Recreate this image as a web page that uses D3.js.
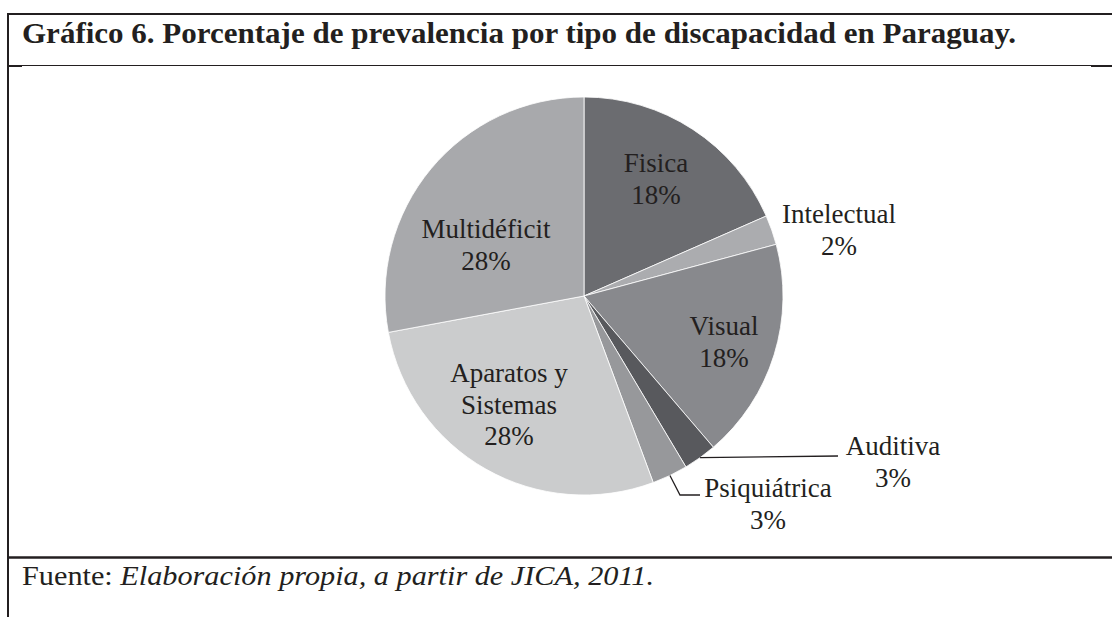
<!DOCTYPE html>
<html>
<head>
<meta charset="utf-8">
<script src="https://cdn.jsdelivr.net/npm/d3@7"></script>
<style>
  html, body { margin: 0; padding: 0; background: #fff; }
  svg { display: block; }
</style>
</head>
<body>
<svg id="chart" width="1112" height="617"></svg>
<script>
// ---- data ----
const categories = ["Fisica", "Intelectual", "Visual", "Auditiva", "Psiquiátrica", "Aparatos y Sistemas", "Multidéficit"];
const values = [18.4, 2.4, 17.9, 2.7, 2.9, 27.7, 27.9];
const percentLabels = ["18%", "2%", "18%", "3%", "3%", "28%", "28%"];
const labelLines = [["Fisica"], ["Intelectual"], ["Visual"], ["Auditiva"], ["Psiquiátrica"], ["Aparatos y", "Sistemas"], ["Multidéficit"]];
const titleText = "Gráfico 6. Porcentaje de prevalencia por tipo de discapacidad en Paraguay.";
const sourceLabel = "Fuente: ";
const sourceText = "Elaboración propia, a partir de JICA, 2011.";

// ---- styling / layout ----
const colors = ["#6b6c70", "#abacaf", "#88898d", "#58595d", "#97989b", "#cbcccd", "#a8a9ac"];
// label anchor (center x, first baseline) relative to pie center
const labelPos = [
  [72, -124], [255, -73], [140, 39], [309, 159], [184, 201], [-75, 86], [-98, -58]
];
// leader lines (relative to pie center) for outside labels
const leaders = { 3: [[254, 160]], 4: [[96, 199], [116, 199]] };

const W = 1112, H = 617;
const ink = "#231f20";
const svg = d3.select("#chart");
const serif = "'Liberation Serif', 'DejaVu Serif', serif";

// frame
svg.append("line").attr("x1", 8).attr("x2", W).attr("y1", 14).attr("y2", 14).attr("stroke", ink).attr("stroke-width", 2);
svg.append("line").attr("x1", 8).attr("x2", 8).attr("y1", 13).attr("y2", H).attr("stroke", ink).attr("stroke-width", 2);
svg.append("line").attr("x1", 8).attr("x2", W).attr("y1", 65.5).attr("y2", 65.5).attr("stroke", ink).attr("stroke-width", 1);
svg.append("line").attr("x1", 8).attr("x2", 22).attr("y1", 66).attr("y2", 66).attr("stroke", ink).attr("stroke-width", 2);
svg.append("line").attr("x1", 1091).attr("x2", W).attr("y1", 66).attr("y2", 66).attr("stroke", ink).attr("stroke-width", 2);
svg.append("line").attr("x1", 8).attr("x2", W).attr("y1", 557.5).attr("y2", 557.5).attr("stroke", ink).attr("stroke-width", 2.5);

// title
svg.append("text").attr("x", 22).attr("y", 43)
  .attr("font-family", serif).attr("font-weight", "bold").attr("font-size", 30)
  .attr("textLength", 994).attr("lengthAdjust", "spacingAndGlyphs")
  .attr("fill", ink).text(titleText);

// footer
const foot = svg.append("text").attr("x", 22).attr("y", 585)
  .attr("font-family", serif).attr("font-size", 27.6).attr("fill", ink)
  .attr("textLength", 632).attr("lengthAdjust", "spacingAndGlyphs");
foot.append("tspan").text(sourceLabel);
foot.append("tspan").attr("font-style", "italic").text(sourceText);

// pie
const cx = 584, cy = 296, R = 199;
const pie = d3.pie().sort(null).value(d => d)(values);
const arc = d3.arc().innerRadius(0).outerRadius(R);
const g = svg.append("g").attr("transform", `translate(${cx},${cy})`);

g.selectAll("path.slice").data(pie).join("path")
  .attr("class", "slice")
  .attr("d", arc)
  .attr("fill", (d, i) => colors[i])
  .attr("stroke", "#ffffff")
  .attr("stroke-width", 0.8);

// leader lines
Object.keys(leaders).forEach(k => {
  const d = pie[+k];
  const a = (d.startAngle + d.endAngle) / 2;
  const start = [R * Math.sin(a), -R * Math.cos(a)];
  const pts = [start].concat(leaders[k]);
  g.append("path").attr("d", d3.line()(pts)).attr("fill", "none")
    .attr("stroke", ink).attr("stroke-width", 1.3);
});

// labels
const fs = 27, lh = 31.5;
pie.forEach((d, i) => {
  const lines = labelLines[i].concat([percentLabels[i]]);
  const t = g.append("text")
    .attr("font-family", serif).attr("font-size", fs).attr("fill", ink)
    .attr("text-anchor", "middle");
  lines.forEach((s, j) => {
    t.append("tspan").attr("x", labelPos[i][0]).attr("y", labelPos[i][1] + j * lh).text(s);
  });
});
</script>
</body>
</html>
